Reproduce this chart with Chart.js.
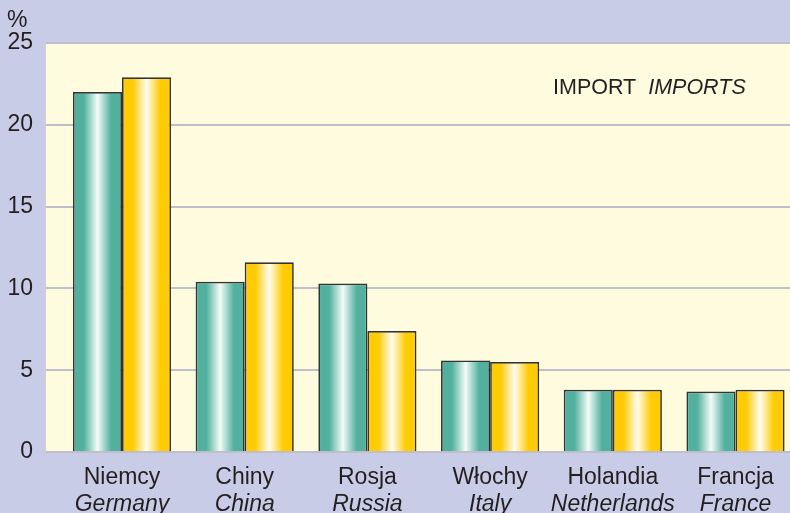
<!DOCTYPE html>
<html>
<head>
<meta charset="utf-8">
<script src="https://cdn.jsdelivr.net/npm/chart.js@4.4.1/dist/chart.umd.min.js"></script>
<style>
  html, body { margin: 0; padding: 0; background: #c8cce6; }
  #wrap { width: 790px; height: 513px; overflow: hidden; }
</style>
</head>
<body>
<div id="wrap"><canvas id="chart" width="790" height="513"></canvas></div>
<script>
const categoriesPl = ['Niemcy', 'Chiny', 'Rosja', 'Włochy', 'Holandia', 'Francja'];
const categoriesEn = ['Germany', 'China', 'Russia', 'Italy', 'Netherlands', 'France'];
const importA = [22.0, 10.4, 10.3, 5.6, 3.8, 3.7];
const importB = [22.9, 11.6, 7.4, 5.5, 3.8, 3.8];
const yTicks = [0, 5, 10, 15, 20, 25];

const FONT = "'Liberation Sans', Arial, Helvetica, sans-serif";
const TXT = '#231f20';

// gradient across each bar: solid edges, white in the middle
function barFill(edge, mid) {
    return function (ctx) {
        const chart = ctx.chart;
        const xs = chart.scales.x;
        if (!xs || ctx.type !== 'data') return edge;
        const p0 = xs.getPixelForValue(0), p1 = xs.getPixelForValue(1);
        if (!isFinite(p0) || !isFinite(p1)) return edge;
        const w = (p1 - p0) * 0.8 / 2;
        const c = xs.getPixelForValue(ctx.dataIndex);
        const left = ctx.datasetIndex === 0 ? c - w : c;
        const g = chart.ctx.createLinearGradient(left, 0, left + w, 0);
        g.addColorStop(0, edge);
        g.addColorStop(0.22, edge);
        g.addColorStop(0.5, mid);
        g.addColorStop(0.78, edge);
        g.addColorStop(1, edge);
        return g;
    };
}

const decor = {
    id: 'decor',
    beforeDraw(chart) {
        const { ctx, chartArea } = chart;
        ctx.save();
        ctx.fillStyle = '#c8cce6';
        ctx.fillRect(0, 0, chart.width, chart.height);
        ctx.fillStyle = '#fffbdf';
        ctx.fillRect(chartArea.left, chartArea.top, chartArea.right - chartArea.left, chartArea.bottom - chartArea.top);
        ctx.restore();
    },
    afterDraw(chart) {
        const { ctx } = chart;
        ctx.save();
        ctx.fillStyle = TXT;
        ctx.textBaseline = 'middle';
        ctx.font = '23px ' + FONT;
        ctx.fillText('%', 7, 21);
        ctx.font = '21.5px ' + FONT;
        const a = 'IMPORT  ';
        ctx.fillText(a, 553, 88);
        const wa = ctx.measureText(a).width;
        ctx.font = 'italic 21.5px ' + FONT;
        ctx.fillText('IMPORTS', 553 + wa, 88);
        ctx.restore();
    }
};

const tickList = categoriesPl.map((_, i) => ({ value: i }));

new Chart(document.getElementById('chart'), {
    type: 'bar',
    data: {
        datasets: [
            {
                label: 'A',
                data: importA.map((v, i) => ({ x: i, y: v })),
                backgroundColor: barFill('#52b09e', '#f4fbf7'),
                borderColor: '#333333',
                borderWidth: 1.7
            },
            {
                label: 'B',
                data: importB.map((v, i) => ({ x: i, y: v })),
                backgroundColor: barFill('#ffcb05', '#fffdf0'),
                borderColor: '#333333',
                borderWidth: 1.7
            }
        ]
    },
    options: {
        responsive: false,
        devicePixelRatio: 1,
        animation: false,
        categoryPercentage: 0.8,
        barPercentage: 1.0,
        layout: { padding: { top: 43, left: 0, right: 0, bottom: 0 } },
        plugins: {
            legend: { display: false },
            tooltip: { enabled: false }
        },
        scales: {
            x: {
                type: 'linear',
                position: 'bottom',
                offset: false,
                weight: 0,
                min: -0.6275,
                max: 5.444,
                afterBuildTicks: (s) => { s.ticks = tickList.map(t => ({ value: t.value })); },
                afterFit: (s) => { s.height = 38.5; },
                grid: { display: false, drawTicks: false },
                border: { display: false },
                ticks: {
                    autoSkip: false,
                    maxRotation: 0,
                    padding: 12,
                    color: TXT,
                    font: { family: FONT, size: 23 },
                    callback: (v) => categoriesPl[v]
                }
            },
            x2: {
                type: 'linear',
                position: 'bottom',
                offset: false,
                weight: 1,
                min: -0.6275,
                max: 5.444,
                afterBuildTicks: (s) => { s.ticks = tickList.map(t => ({ value: t.value })); },
                afterFit: (s) => { s.height = 22.5; },
                grid: { display: false, drawTicks: false },
                border: { display: false },
                ticks: {
                    autoSkip: false,
                    maxRotation: 0,
                    padding: 0,
                    color: TXT,
                    font: { family: FONT, size: 23, style: 'italic' },
                    callback: (v) => categoriesEn[v]
                }
            },
            y: {
                min: 0,
                max: 25,
                afterBuildTicks: (s) => { s.ticks = yTicks.map(v => ({ value: v })); },
                afterFit: (s) => { s.width = 45; },
                grid: { color: '#bfbfcc', lineWidth: 2, drawTicks: false },
                border: { display: true, color: '#d0d0d0', width: 1 },
                ticks: {
                    padding: 12,
                    color: TXT,
                    font: { family: FONT, size: 23 }
                }
            }
        }
    },
    plugins: [decor]
});
</script>
</body>
</html>
